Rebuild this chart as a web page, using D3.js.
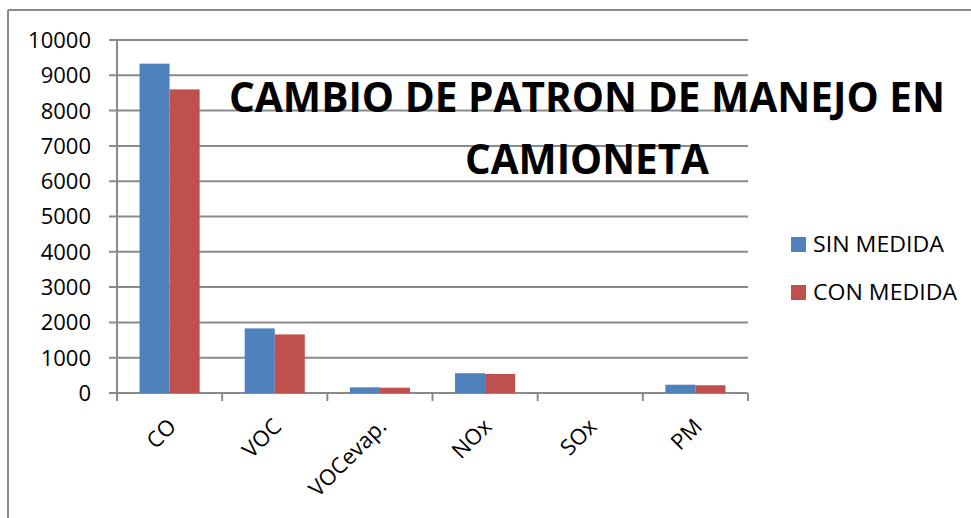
<!DOCTYPE html>
<html>
<head>
<meta charset="utf-8">
<script src="https://cdn.jsdelivr.net/npm/d3@7"></script>
<style>
  body { margin: 0; background: #fff; }
  text { font-family: "Open Sans", "DejaVu Sans", sans-serif; fill: #000; }
</style>
</head>
<body>
<div id="chart"></div>
<script>
// data
var categories = ['CO', 'VOC', 'VOCevap.', 'NOx', 'SOx', 'PM'];
var series_names = ['SIN MEDIDA', 'CON MEDIDA'];
var sin_medida = [9330, 1830, 160, 560, 0, 235];
var con_medida = [8600, 1660, 150, 540, 0, 220];
var y_ticks = [0, 1000, 2000, 3000, 4000, 5000, 6000, 7000, 8000, 9000, 10000];
var title_lines = ['CAMBIO DE PATRON DE MANEJO EN', 'CAMIONETA'];

var colors = ['#4F81BD', '#C0504D'];
var grid_color = '#8a8a8a';

// Chart
var width = 971, height = 518;
var plot = {left: 117, right: 748, top: 40, bottom: 393};

var svg = d3.select('#chart').append('svg')
    .attr('width', width)
    .attr('height', height);

// outer frame (top and left edges only visible)
svg.append('line')
    .attr('x1', 8).attr('x2', width).attr('y1', 10).attr('y2', 10)
    .attr('stroke', grid_color).attr('stroke-width', 2);
svg.append('line')
    .attr('x1', 8).attr('x2', 8).attr('y1', 10).attr('y2', height)
    .attr('stroke', grid_color).attr('stroke-width', 2);

var x_scale = d3.scaleBand()
    .domain(categories)
    .range([plot.left, plot.right])
    .padding(0);
var x_inner = d3.scaleBand()
    .domain(series_names)
    .range([0, x_scale.bandwidth()])
    .paddingInner(0)
    .paddingOuter(0.75);
var y_scale = d3.scaleLinear()
    .domain([0, 10000])
    .range([plot.bottom, plot.top]);

// gridlines
svg.append('g')
    .selectAll('line')
    .data(y_ticks)
    .enter().append('line')
      .attr('x1', plot.left - 8)
      .attr('x2', plot.right)
      .attr('y1', function(d) { return y_scale(d); })
      .attr('y2', function(d) { return y_scale(d); })
      .attr('stroke', grid_color)
      .attr('stroke-width', 2);

// y axis line
svg.append('line')
    .attr('x1', plot.left).attr('x2', plot.left)
    .attr('y1', plot.top).attr('y2', plot.bottom + 8)
    .attr('stroke', grid_color).attr('stroke-width', 2);

// y tick labels
svg.append('g')
    .selectAll('text')
    .data(y_ticks)
    .enter().append('text')
      .attr('x', 91)
      .attr('y', function(d) { return y_scale(d); })
      .attr('dy', '0.36em')
      .attr('text-anchor', 'end')
      .attr('font-size', 22)
      .text(function(d) { return d; });

// x ticks at band edges
var x_edges = categories.map(function(c) { return x_scale(c); }).concat([plot.right]);
svg.append('g')
    .selectAll('line')
    .data(x_edges)
    .enter().append('line')
      .attr('x1', function(d) { return d; })
      .attr('x2', function(d) { return d; })
      .attr('y1', plot.bottom)
      .attr('y2', plot.bottom + 8)
      .attr('stroke', grid_color)
      .attr('stroke-width', 2);

// bars
var rows = categories.map(function(c, i) {
  return {cat: c, values: [sin_medida[i], con_medida[i]]};
});
var groups = svg.append('g')
    .selectAll('g')
    .data(rows)
    .enter().append('g')
      .attr('transform', function(d) { return 'translate(' + x_scale(d.cat) + ',0)'; });

groups.selectAll('rect')
    .data(function(d) { return d.values.map(function(v, j) { return {name: series_names[j], value: v, j: j}; }); })
    .enter().append('rect')
      .attr('x', function(d) { return x_inner(d.name); })
      .attr('width', x_inner.bandwidth())
      .attr('y', function(d) { return y_scale(d.value); })
      .attr('height', function(d) { return plot.bottom - y_scale(d.value); })
      .attr('fill', function(d) { return colors[d.j]; });

// x labels, rotated
svg.append('g')
    .selectAll('text')
    .data(categories)
    .enter().append('text')
      .attr('text-anchor', 'end')
      .attr('font-size', 22)
      .attr('transform', function(d) {
        var cx = x_scale(d) + x_scale.bandwidth() / 2 + 8;
        return 'translate(' + cx + ',' + (plot.bottom + 35) + ') rotate(-45)';
      })
      .text(function(d) { return d; });

// title
var title_x = 587;
svg.append('text')
    .attr('x', title_x).attr('y', 112)
    .attr('text-anchor', 'middle')
    .attr('font-size', 42).attr('font-weight', 'bold')
    .attr('textLength', 716).attr('lengthAdjust', 'spacingAndGlyphs')
    .text(title_lines[0]);
svg.append('text')
    .attr('x', title_x).attr('y', 174)
    .attr('text-anchor', 'middle')
    .attr('font-size', 42).attr('font-weight', 'bold')
    .attr('textLength', 244).attr('lengthAdjust', 'spacingAndGlyphs')
    .text(title_lines[1]);

// legend
var legend = svg.append('g')
    .selectAll('g')
    .data(series_names)
    .enter().append('g')
      .attr('transform', function(d, i) { return 'translate(791,' + (237 + i * 48) + ')'; });
legend.append('rect')
    .attr('width', 15).attr('height', 15)
    .attr('fill', function(d, i) { return colors[i]; });
legend.append('text')
    .attr('x', 22).attr('y', 14.5)
    .attr('font-size', 21)
    .attr('textLength', function(d, i) { return i === 0 ? 131 : 144; })
    .attr('lengthAdjust', 'spacingAndGlyphs')
    .text(function(d) { return d; });
</script>
</body>
</html>
